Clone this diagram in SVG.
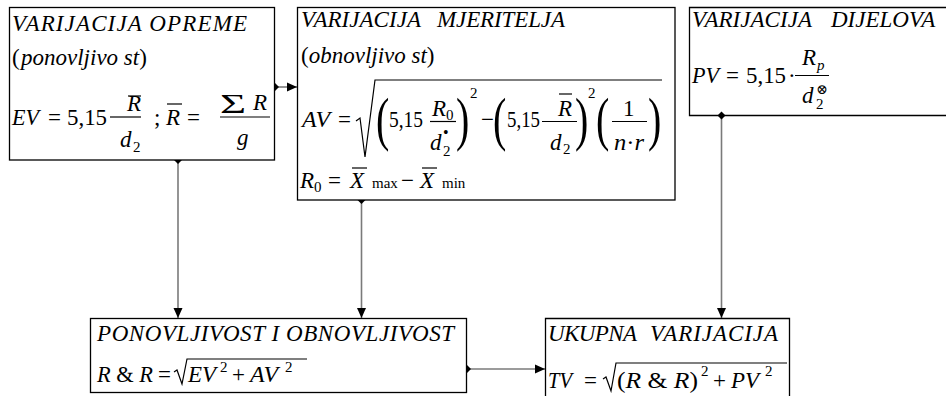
<svg xmlns="http://www.w3.org/2000/svg" width="946" height="396" viewBox="0 0 946 396">
<defs>
<style>
text{font-family:Liberation Serif,DejaVu Serif,Times New Roman,Times,serif;font-size:23px;fill:#000}
.i{font-style:italic}
.s{font-size:15px}
.xs{font-size:14px}
.bu{font-size:16px}
.bp{font-size:40px}
.box{fill:#fff;stroke:#000;stroke-width:1.3}
.ob{fill:none;stroke:#000;stroke-width:1.3}
.fl{stroke:#000;stroke-width:1.2;fill:none}
.con{fill:none;stroke:#7a7a7a;stroke-width:1.6}
</style>
<marker id="dia" markerUnits="userSpaceOnUse" markerWidth="10" markerHeight="10" refX="5" refY="5" orient="auto"><path d="M1,5 L5,1 L9,5 L5,9 Z" fill="#000"/></marker>
<marker id="arr" markerUnits="userSpaceOnUse" markerWidth="11" markerHeight="10" refX="10" refY="5" orient="auto"><path d="M0,0.5 L10,5 L0,9.5 Z" fill="#000"/></marker>
</defs>
<rect width="946" height="396" fill="#fff"/>

<g id="connectors">
<line class="con" x1="275" y1="87" x2="297" y2="87" marker-start="url(#dia)" marker-end="url(#arr)"/>
<line class="con" x1="178" y1="160" x2="178" y2="318" marker-start="url(#dia)" marker-end="url(#arr)"/>
<line class="con" x1="361.5" y1="200" x2="361.5" y2="318" marker-start="url(#dia)" marker-end="url(#arr)"/>
<line class="con" x1="721.5" y1="115.5" x2="721.5" y2="318" marker-start="url(#dia)" marker-end="url(#arr)"/>
<line class="con" x1="467" y1="369" x2="545" y2="369" marker-start="url(#dia)" marker-end="url(#arr)"/>
</g>

<g id="n1">
<rect class="box" x="9.5" y="7.5" width="265" height="152.5"/>
<text class="i" x="12" y="31" textLength="235">VARIJACIJA OPREME</text>
<text x="12" y="65">(<tspan class="i" x="21">ponovljivo st</tspan>)</text>
<text class="i" x="12" y="125" textLength="27" lengthAdjust="spacingAndGlyphs">EV</text>
<text x="48" y="125">=</text>
<text x="67" y="125" textLength="40" lengthAdjust="spacingAndGlyphs">5,15</text>
<text class="i" x="127" y="111">R</text>
<line class="fl" x1="128" y1="96" x2="141" y2="96"/>
<line class="fl" x1="110" y1="117" x2="141" y2="117"/>
<text class="i" x="120" y="147">d</text>
<text class="s" x="133" y="152">2</text>
<text x="154" y="125">;</text>
<text class="i" x="166" y="125">R</text>
<line class="fl" x1="167" y1="104" x2="182" y2="104"/>
<text x="187" y="125">=</text>
<text transform="translate(220,113) scale(1.6,0.95)" style="font-size:28px">Σ</text>
<text class="i" x="253" y="110">R</text>
<line class="fl" x1="220" y1="117" x2="270" y2="117"/>
<text class="i" x="237" y="145">g</text>
</g>

<g id="n2">
<rect class="box" x="297.5" y="7.5" width="377.5" height="192.5"/>
<text class="i" x="301" y="27" textLength="120">VARIJACIJA</text>
<text class="i" x="437" y="27" textLength="128">MJERITELJA</text>
<text x="301" y="63">(<tspan class="i">obnovljivo st</tspan>)</text>
<text class="i" x="302" y="127" textLength="28" lengthAdjust="spacingAndGlyphs">AV</text>
<text x="338" y="127">=</text>
<polyline class="fl" points="356,121 360,118 365,157 375,80 662,80"/>
<text class="bp" transform="translate(376,139) scale(1,1.5)">(</text>
<text x="389" y="127" textLength="34" lengthAdjust="spacingAndGlyphs">5,15</text>
<text class="i" x="432" y="116">R</text>
<text class="s" x="446" y="120">0</text>
<line class="fl" x1="430" y1="121.5" x2="456" y2="121.5"/>
<text class="i" x="430" y="150">d</text>
<text class="bu" x="443" y="138">•</text>
<text class="s" x="443" y="156">2</text>
<text class="bp" transform="translate(456,139) scale(1,1.5)">)</text>
<text class="s" x="470" y="98">2</text>
<text x="481" y="127">−</text>
<text class="bp" transform="translate(493,139) scale(1,1.5)">(</text>
<text x="507" y="127" textLength="33" lengthAdjust="spacingAndGlyphs">5,15</text>
<text class="i" x="558" y="116">R</text>
<line class="fl" x1="559" y1="94" x2="572" y2="94"/>
<line class="fl" x1="542" y1="121.5" x2="577" y2="121.5"/>
<text class="i" x="550" y="150">d</text>
<text class="s" x="563" y="154">2</text>
<text class="bp" transform="translate(575,139) scale(1,1.5)">)</text>
<text class="s" x="588" y="98">2</text>
<text class="bp" transform="translate(596,139) scale(1,1.5)">(</text>
<text x="623" y="116">1</text>
<line class="fl" x1="612" y1="121.5" x2="647" y2="121.5"/>
<text class="i" x="614" y="150" textLength="30" lengthAdjust="spacingAndGlyphs">n<tspan font-style="normal">·</tspan>r</text>
<text class="bp" transform="translate(648,139) scale(1,1.5)">)</text>
<text class="i" x="300" y="188">R</text>
<text class="s" x="314" y="192">0</text>
<text x="328" y="188">=</text>
<text class="i" x="350" y="188">X</text>
<line class="fl" x1="352" y1="168" x2="367" y2="168"/>
<text class="s" x="372" y="188">max</text>
<text x="401" y="188">−</text>
<text class="i" x="420" y="188">X</text>
<line class="fl" x1="422" y1="168" x2="437" y2="168"/>
<text class="s" x="442" y="188">min</text>
</g>

<g id="n3">
<path class="ob" d="M946,7.5 H689.5 V115.5 H946"/>
<text class="i" x="692" y="27" textLength="120">VARIJACIJA</text>
<text class="i" x="831" y="27">DIJELOVA</text>
<text class="i" x="692" y="83" textLength="27" lengthAdjust="spacingAndGlyphs">PV</text>
<text x="726" y="83">=</text>
<text x="746" y="83" textLength="40" lengthAdjust="spacingAndGlyphs">5,15</text>
<text x="788" y="83">·</text>
<text class="i" x="802" y="65">R</text>
<text class="s i" x="817" y="70">p</text>
<line class="fl" x1="795" y1="75.5" x2="829" y2="75.5"/>
<text class="i" x="802" y="103">d</text>
<text class="xs" x="816" y="94">⊗</text>
<text class="s" x="816" y="109">2</text>
</g>

<g id="n4">
<rect class="box" x="90.5" y="318.5" width="376" height="74"/>
<text class="i" x="97" y="341" textLength="357">PONOVLJIVOST I OBNOVLJIVOST</text>
<text class="i" x="97" y="382" textLength="56" lengthAdjust="spacingAndGlyphs">R <tspan font-style="normal">&amp;</tspan> R</text>
<text x="158" y="382">=</text>
<polyline class="fl" points="174,372 177,370 182,384 187,359 307,359"/>
<text class="i" x="188" y="382" textLength="28" lengthAdjust="spacingAndGlyphs">EV</text>
<text class="s" x="220" y="372">2</text>
<text x="232" y="382">+</text>
<text class="i" x="250" y="382" textLength="28" lengthAdjust="spacingAndGlyphs">AV</text>
<text class="s" x="285" y="372">2</text>
</g>

<g id="n5">
<path class="ob" d="M545.5,396 V318.5 H789.5 V396"/>
<text class="i" x="548" y="341" textLength="89">UKUPNA</text>
<text class="i" x="650" y="341" textLength="128">VARIJACIJA</text>
<text class="i" x="548" y="388" textLength="24" lengthAdjust="spacingAndGlyphs">TV</text>
<text x="584" y="388">=</text>
<polyline class="fl" points="603,379 606,377 611,391 616,363 787,363"/>
<text x="617" y="388" textLength="81" lengthAdjust="spacingAndGlyphs">(<tspan class="i">R</tspan> &amp; <tspan class="i">R</tspan>)</text>
<text class="s" x="701" y="376">2</text>
<text x="713" y="388">+</text>
<text class="i" x="731" y="388" textLength="28" lengthAdjust="spacingAndGlyphs">PV</text>
<text class="s" x="765" y="376">2</text>
</g>
</svg>
